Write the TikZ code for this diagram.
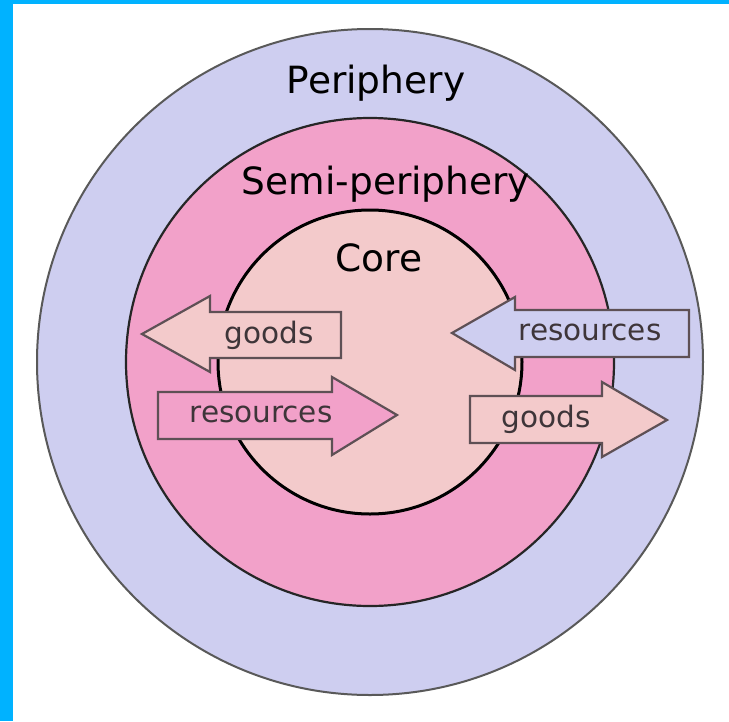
\documentclass[tikz,border=0pt]{standalone}
\usepackage{fontspec}
\setmainfont{DejaVu Sans}
\definecolor{cyanbar}{HTML}{00B2FF}
\definecolor{perif}{HTML}{CECEF0}
\definecolor{semi}{HTML}{F2A1C9}
\definecolor{corec}{HTML}{F3CACB}
\definecolor{arrline}{HTML}{5E5055}
\definecolor{lbl}{HTML}{3E3539}
\tikzset{
  title/.style={anchor=base, inner sep=0pt, font=\fontsize{37.5}{40}\selectfont, text=black},
  arrlabel/.style={anchor=base, inner sep=0pt, font=\fontsize{29.5}{32}\selectfont, text=lbl},
  flow/.style={draw=arrline, line width=2.2pt, line join=miter}
}
\begin{document}
\begin{tikzpicture}[x=1pt,y=-1pt]
\useasboundingbox (0,0) rectangle (729,721);
\fill[white] (0,0) rectangle (729,721);
\fill[cyanbar] (0,0) rectangle (13,721);
\fill[cyanbar] (0,0) rectangle (729,4);
% circles
\coordinate (c) at (370,362);
\draw[fill=perif, draw=black!65, line width=2pt] (c) circle[radius=333];
\draw[fill=semi, draw=black!85, line width=2.2pt] (c) circle[radius=244];
\draw[fill=corec, draw=black, line width=3pt] (c) circle[radius=152];
% titles
\node[title] (per) at (376,93) {Periphery};
\node[title] (sem) at (386,194) {Semi-periphery};
\node[title] (cor) at (379,271) {Core};
% left goods arrow (pointing left)
\draw[flow, fill=corec] (142,334) -- (210,296) -- (210,312) -- (341,312) -- (341,358) -- (210,358) -- (210,372) -- cycle;
\node[arrlabel] (g1) at (269,343) {goods};
% left resources arrow (pointing right)
\draw[flow, fill=semi] (158,392) -- (332,392) -- (332,377) -- (397,415) -- (332,455) -- (332,439) -- (158,439) -- cycle;
\node[arrlabel] (r1) at (261,422) {resources};
% right resources arrow (pointing left)
\draw[flow, fill=perif] (452,333) -- (515,297) -- (515,310) -- (689,310) -- (689,357) -- (515,357) -- (515,370) -- cycle;
\node[arrlabel] (r2) at (590,340) {resources};
% right goods arrow (pointing right)
\draw[flow, fill=corec] (470,396) -- (602,396) -- (602,382) -- (667,420) -- (602,457) -- (602,443) -- (470,443) -- cycle;
\node[arrlabel] (g2) at (546,427) {goods};
\end{tikzpicture}
\end{document}
